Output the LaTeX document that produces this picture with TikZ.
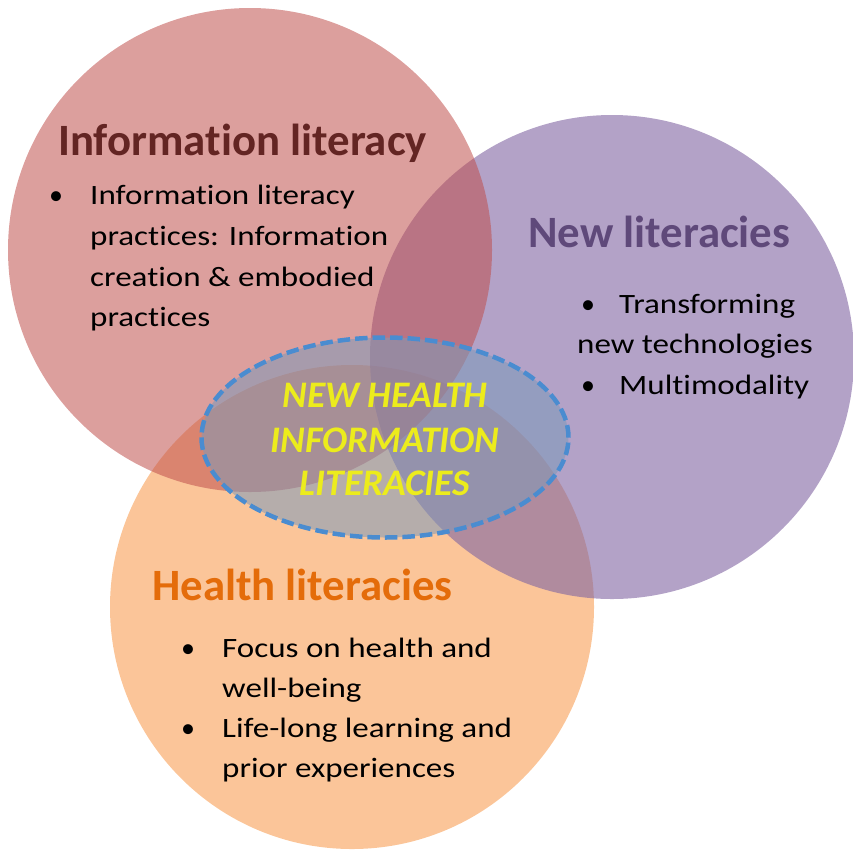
\documentclass[tikz,border=0pt]{standalone}
\usepackage{fontspec}
\setmainfont{Carlito}[Ligatures=NoCommon]
\newfontfamily\bodyfont{Carlito}[Ligatures=NoCommon, FakeStretch=1.18]
\usetikzlibrary{shapes.geometric}
\definecolor{redfill}{RGB}{192,80,77}
\definecolor{purfill}{RGB}{128,100,162}
\definecolor{orafill}{RGB}{247,150,70}
\definecolor{redtitle}{RGB}{99,37,35}
\definecolor{purtitle}{RGB}{95,73,122}
\definecolor{oratitle}{RGB}{228,108,10}
\definecolor{ellfill}{RGB}{125,153,185}
\definecolor{elldash}{RGB}{74,140,208}
\definecolor{yel}{RGB}{236,236,28}
\tikzset{
  circ/.style={circle, inner sep=0pt, minimum size=484pt},
  title/.style={anchor=base west, inner sep=0pt, font=\fontsize{44.8}{46}\selectfont\bfseries},
  body/.style={anchor=base west, inner sep=0pt, font=\bodyfont\fontsize{28}{41}\selectfont, text=black},
  bul/.style={anchor=base west, inner sep=0pt, font=\fontsize{28}{41}\selectfont, text=black},
  centre/.style={anchor=base, inner sep=0pt, font=\fontsize{37.5}{44}\selectfont\bfseries\itshape, text=yel},
}
\begin{document}
\begin{tikzpicture}[x=1pt,y=-1pt]
\useasboundingbox (0,0) rectangle (853,849);
% circles (orange, purple, red order)
\node[circ, fill=orafill, fill opacity=0.55] (hc) at (352,607) {};
\node[circ, fill=purfill, fill opacity=0.6] (nc) at (612,357) {};
\node[circ, fill=redfill, fill opacity=0.55] (ic) at (250,250) {};
% central ellipse
\node[ellipse, inner sep=0pt, minimum width=367pt, minimum height=200pt,
      fill=ellfill, fill opacity=0.55, draw=elldash, draw opacity=1, line width=4.5pt,
      dash pattern=on 12.5pt off 5pt] (ell) at (385,437.5) {};
% Information literacy
\node[title, text=redtitle] (it) at (58,155) {Information literacy};
\node[bul] (ib) at (49,204) {•};
\node[body] (i1) at (90,204) {Information literacy};
\node[body] (i2) at (90,245) {practices: Information};
\node[body] (i3) at (90,286) {creation \& embodied};
\node[body] (i4) at (90,326) {practices};
% New literacies
\node[title, text=purtitle] (nt) at (528,247) {New literacies};
\node[bul] (nb1) at (581,313) {•};
\node[body] (n1) at (619,313) {Transforming};
\node[body] (n2) at (577,353) {new technologies};
\node[bul] (nb2) at (581,394) {•};
\node[body] (n3) at (619,394) {Multimodality};
% Health literacies
\node[title, text=oratitle] (ht) at (152,600) {Health literacies};
\node[bul] (hb1) at (181,657) {•};
\node[body] (h1) at (222,657) {Focus on health and};
\node[body] (h2) at (222,697) {well-being};
\node[bul] (hb2) at (181,737) {•};
\node[body] (h3) at (222,737) {Life-long learning and};
\node[body] (h4) at (222,777) {prior experiences};
% centre text
\node[centre] (c1) at (385,407) {NEW HEALTH};
\node[centre] (c2) at (385,452) {INFORMATION};
\node[centre] (c3) at (385,495) {LITERACIES};
\end{tikzpicture}
\end{document}
